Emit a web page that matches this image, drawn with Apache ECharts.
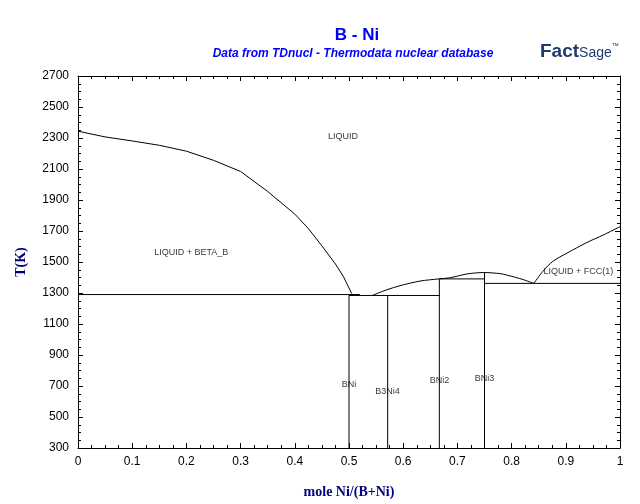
<!DOCTYPE html>
<html>
<head>
<meta charset="utf-8">
<script src="https://cdn.jsdelivr.net/npm/echarts@6/dist/echarts.min.js"></script>
<style>html,body{margin:0;padding:0;background:#fff;}#c{width:640px;height:504px;}</style>
</head>
<body>
<div id="c"></div>
<script>
// ---- data (mole fraction Ni, T in K) ----
var liquidusB = [[0,2344],[0.05,2307],[0.1,2281],[0.15,2253],[0.2,2215],[0.25,2156],[0.3,2084],[0.35,1955],[0.4,1809],[0.425,1716],[0.45,1604],[0.475,1487],[0.49,1404],[0.505,1296]];
var liquidusMid = [[0.544,1286],[0.570,1321],[0.594,1347],[0.631,1377],[0.666,1391],[0.686,1398],[0.718,1423],[0.749,1432],[0.779,1425],[0.792,1415],[0.821,1387],[0.841,1362]];
var liquidusNi = [[0.841,1362],[0.858,1441],[0.876,1504],[0.902,1557],[0.939,1626],[0.969,1674],[1.0,1728]];
var eut1 = [[0,1290],[0.52,1290]];
var eut2 = [[0.5,1284],[0.667,1284]];
var eut3 = [[0.667,1391],[0.75,1391]];
var eut4 = [[0.75,1362],[1,1362]];
var vBNi = [[0.5,300],[0.5,1290]];
var vB3Ni4 = [[0.5714,300],[0.5714,1284]];
var vBNi2 = [[0.6667,300],[0.6667,1391]];
var vBNi3 = [[0.75,300],[0.75,1432]];
var phaseLabels = [[0.489,2310,'LIQUID'],[0.209,1564,'LIQUID + BETA_B'],[0.923,1436,'LIQUID + FCC(1)'],[0.5,709,'BNi'],[0.571,664,'B3Ni4'],[0.667,734,'BNi2'],[0.75,747,'BNi3']];
var xTicks = {min:0, max:1, interval:0.1};
var yTicks = {min:300, max:2700, interval:200};

var series = [];
series.push({type:'line', data:liquidusB, showSymbol:false, symbol:'none', silent:true, animation:false,
        lineStyle:{color:'#000', width:1}, smooth:false});
[liquidusMid, liquidusNi].forEach(function(d){
  series.push({type:'line', data:d, showSymbol:false, symbol:'none', silent:true, animation:false,
          lineStyle:{color:'#000', width:1}, smooth:0.3});
});
[eut1, eut2, eut3, eut4, vBNi, vB3Ni4, vBNi2, vBNi3].forEach(function(d){
  series.push({type:'line', data:d, showSymbol:false, symbol:'none', silent:true, animation:false,
          lineStyle:{color:'#000', width:1}});
});
series.push({
  type:'scatter', data:phaseLabels, symbolSize:0, silent:true, animation:false,
  label:{show:true, position:'inside', formatter:function(p){return p.data[2];},
         color:'#000', fontSize:9, fontFamily:'Liberation Sans, Arial, sans-serif'}
});

var chart = echarts.init(document.getElementById('c'));
var tickFont = {color:'#000', fontSize:12, fontFamily:'Liberation Sans, Arial, sans-serif'};
function xa(pos, show){
  return {type:'value', position:pos, min:xTicks.min, max:xTicks.max, interval:xTicks.interval,
    axisLine:{show:true, onZero:false, lineStyle:{color:'#000', width:1}},
    axisTick:{show:true, inside:true, length:5, lineStyle:{color:'#000'}},
    minorTick:{show:true, splitNumber:4, length:3, lineStyle:{color:'#000'}},
    splitLine:{show:false},
    axisLabel:Object.assign({show:show, margin:8, formatter:function(v){return String(Math.round(v*10)/10);}}, tickFont),
    name: show ? 'mole Ni/(B+Ni)' : '', nameLocation:'middle', nameGap:37, nameMoveOverlap:false,
    nameTextStyle:{color:'#000080', fontSize:14, fontWeight:'bold', fontFamily:'Liberation Serif, Times New Roman, serif'}
  };
}
function ya(pos, show){
  return {type:'value', position:pos, min:yTicks.min, max:yTicks.max, interval:yTicks.interval,
    axisLine:{show:true, onZero:false, lineStyle:{color:'#000', width:1}},
    axisTick:{show:true, inside:true, length:5, lineStyle:{color:'#000'}},
    minorTick:{show:true, splitNumber:4, length:3, lineStyle:{color:'#000'}},
    splitLine:{show:false},
    axisLabel:Object.assign({show:show, margin:9, formatter:function(v){return String(v);}}, tickFont),
    name: show ? 'T(K)' : '', nameLocation:'middle', nameGap:50, nameRotate:90, nameMoveOverlap:false,
    nameTextStyle:{color:'#000080', fontSize:14, fontWeight:'bold', fontFamily:'Liberation Serif, Times New Roman, serif'}
  };
}

chart.setOption({
  animation:false,
  backgroundColor:'#fff',
  title:[
    {text:'B - Ni', left:352, top:22, textAlign:'center',
     textStyle:{color:'#0000ff', fontSize:17, fontWeight:'bold', fontFamily:'Liberation Sans, Arial, sans-serif'}},
    {text:'Data from TDnucl - Thermodata nuclear database', left:348, top:43, textAlign:'center',
     textStyle:{color:'#0000ff', fontSize:12, fontWeight:'bold', fontStyle:'italic', fontFamily:'Liberation Sans, Arial, sans-serif'}}
  ],
  grid:{left:78, right:20, top:76, bottom:52, containLabel:false},
  xAxis:[xa('bottom', true), xa('top', false)],
  yAxis:[ya('left', true), ya('right', false)],
  graphic:[
    {type:'text', left:540, top:42, style:{
      text:'{f|Fact}{s|Sage}{r|™}',
      rich:{
        f:{fill:'#1d3b6e', fontSize:19, fontWeight:'bold', fontFamily:'Liberation Sans, Arial, sans-serif'},
        s:{fill:'#1d3b6e', fontSize:14, fontFamily:'Liberation Sans Narrow, Liberation Sans, Arial, sans-serif', padding:[4,0,0,0]},
        r:{fill:'#1d3b6e', fontSize:7, padding:[0,0,10,0]}
      }}}
  ],
  series:series
});
</script>
</body>
</html>
